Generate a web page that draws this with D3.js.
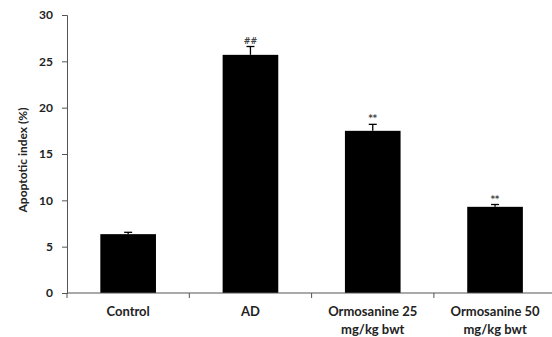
<!DOCTYPE html>
<html><head><meta charset="utf-8">
<script src="https://cdn.jsdelivr.net/npm/d3@7"></script>
<style>body{margin:0;background:#fff}svg{display:block}</style>
</head><body>
<svg id="c" width="552" height="337"></svg>
<script>
const categories = [["Control"], ["AD"], ["Ormosanine 25", "mg/kg bwt"], ["Ormosanine 50", "mg/kg bwt"]];
const values = [6.35, 25.7, 17.5, 9.3];
const errors = [0.2, 0.9, 0.7, 0.25];
const marks = ["", "##", "**", "**"];
const yTicks = [0, 5, 10, 15, 20, 25, 30];

const svg = d3.select("#c");
const font = "Lato, 'Open Sans', sans-serif";
const x0 = 67, y0 = 293, yTop = 15, band = 122.3;
const x = d3.scaleBand().domain(d3.range(categories.length)).range([x0, x0 + band * categories.length]).paddingInner(0.545).paddingOuter(0.2725);
const y = d3.scaleLinear().domain([0, 30]).range([y0, yTop]);

const axisCol = "#555";
// y axis
const ya = svg.append("g").attr("transform", `translate(${x0},0)`)
  .call(d3.axisLeft(y).tickValues(yTicks).tickSize(5).tickPadding(9));
ya.select(".domain").attr("stroke", axisCol);
ya.selectAll(".tick line").attr("stroke", axisCol);
ya.selectAll("text").attr("font-family", font).attr("font-weight", "bold").attr("font-size", 12).attr("fill", "#222");

// bars
svg.selectAll("rect.bar").data(values).enter().append("rect")
  .attr("x", (d, i) => x(i)).attr("width", x.bandwidth())
  .attr("y", d => y(d)).attr("height", d => y(0) - y(d)).attr("fill", "#000");

// error bars
const eg = svg.append("g").attr("stroke", "#000").attr("stroke-width", 1.3);
values.forEach((v, i) => {
  const cx = x(i) + x.bandwidth() / 2;
  eg.append("line").attr("x1", cx).attr("x2", cx).attr("y1", y(v)).attr("y2", y(v + errors[i]));
  eg.append("line").attr("x1", cx - 4).attr("x2", cx + 4).attr("y1", y(v + errors[i])).attr("y2", y(v + errors[i]));
});

// significance marks
svg.selectAll("text.mark").data(marks).enter().append("text")
  .attr("x", (d, i) => x(i) + x.bandwidth() / 2)
  .attr("y", (d, i) => y(values[i] + errors[i]) - 3)
  .attr("text-anchor", "middle").attr("font-family", "DejaVu Sans, sans-serif")
  .attr("font-size", 8).attr("font-weight", "bold").attr("fill", "#444").text(d => d);

// x axis
svg.append("line").attr("x1", x0).attr("x2", 552).attr("y1", y0).attr("y2", y0).attr("stroke", axisCol);
d3.range(categories.length + 1).forEach(i => {
  const tx = x0 + band * i;
  svg.append("line").attr("x1", tx).attr("x2", tx).attr("y1", y0).attr("y2", y0 + 5).attr("stroke", axisCol);
});
categories.forEach((lines, i) => {
  const t = svg.append("text").attr("text-anchor", "middle").attr("font-family", font)
    .attr("font-weight", "bold").attr("font-size", 13).attr("fill", "#222");
  lines.forEach((l, j) => t.append("tspan").attr("x", x(i) + x.bandwidth() / 2).attr("y", 316 + j * 18).text(l));
});

// y label
svg.append("text").attr("transform", "translate(27,160) rotate(-90)").attr("text-anchor", "middle")
  .attr("font-family", font).attr("font-weight", "bold").attr("font-size", 12).attr("fill", "#222")
  .text("Apoptotic index (%)");
</script>
</body></html>
